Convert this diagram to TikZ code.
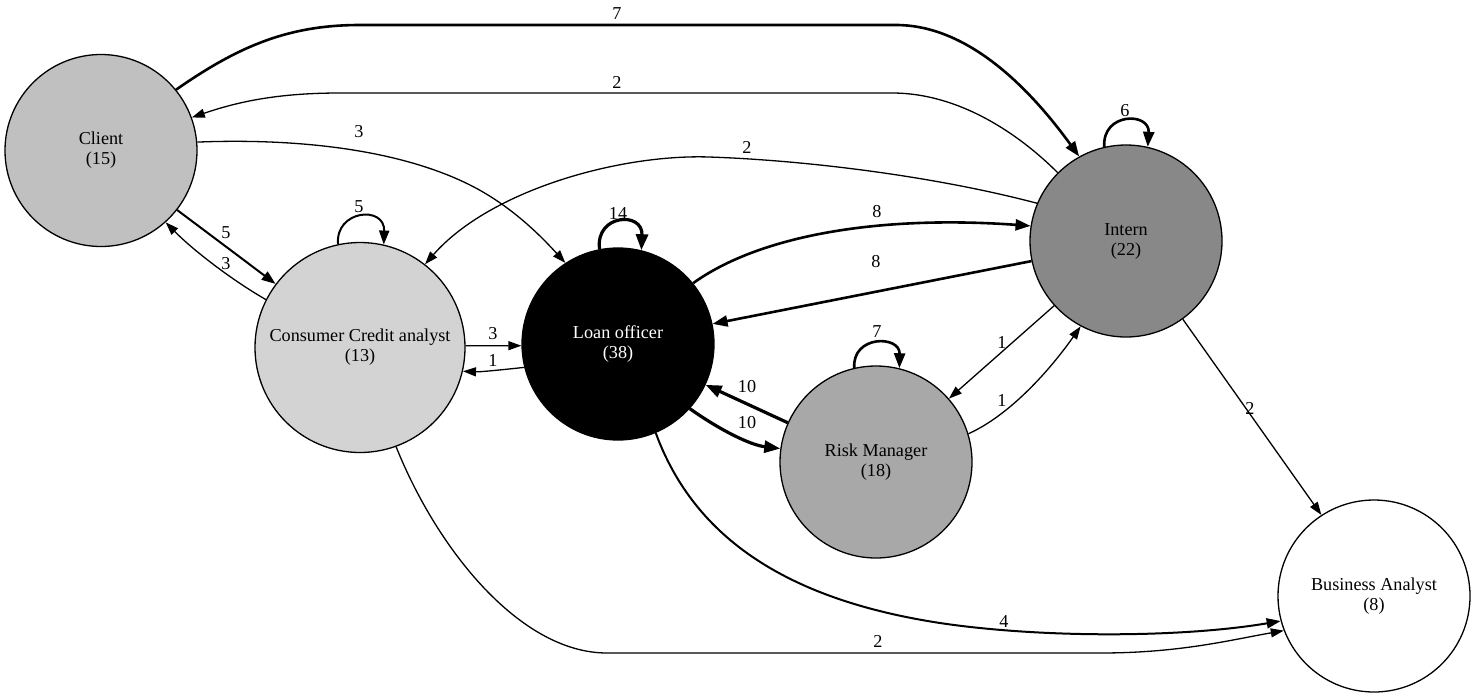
\documentclass[tikz,border=0pt]{standalone}
\usepackage{fontspec}
\setmainfont{Liberation Serif}
\usetikzlibrary{arrows.meta}
\definecolor{cclient}{HTML}{C0C0C0}
\definecolor{ccca}{HTML}{D3D3D3}
\definecolor{cintern}{HTML}{888888}
\definecolor{crisk}{HTML}{A8A8A8}
\begin{document}
\begin{tikzpicture}[x=1pt,y=-1pt,
  state/.style={circle,draw=black,line width=1.3pt,inner sep=0pt,minimum size=192pt,align=center,font=\fontsize{18.2}{20}\selectfont},
  lbl/.style={inner sep=0pt,font=\fontsize{18.2}{20}\selectfont},
  thin/.style={line width=1.3pt,-{Triangle[length=13pt,width=9pt]}},
  mid/.style={line width=2.0pt,-{Triangle[length=14pt,width=10pt]}},
  thick/.style={line width=2.6pt,-{Triangle[length=15pt,width=11pt]}},
  heavy/.style={line width=3.2pt,-{Triangle[length=16pt,width=12pt]}}]
\useasboundingbox (0,0) rectangle (1477,697);
\node[state,fill=cclient] (client) at (101,150.5) {Client\\(15)};
\node[state,fill=ccca,minimum size=210pt] (cca) at (360,347.5) {Consumer Credit analyst\\(13)};
\node[state,fill=black,text=white] (lo) at (618,344) {Loan officer\\(38)};
\node[state,fill=cintern] (intern) at (1126,241) {Intern\\(22)};
\node[state,fill=crisk] (rm) at (876,462) {Risk Manager\\(18)};
\node[state,fill=white] (ba) at (1374,596) {Business Analyst\\(8)};
% Client -> Intern (7)
\draw[thick] (client.39) .. controls (240,45) and (290,25) .. (360,25) -- (896,25) .. controls (960,25) and (1020,75) .. (intern.119);
\node[lbl] (l1) at (617,14) {7};
% Intern -> Client (2)
\draw[thin] (intern.135) .. controls (1020,135) and (960,93) .. (892,93) -- (340,93) .. controls (280,93) and (240,101) .. (client.20);
\node[lbl] (l2) at (617,82) {2};
% Client -> LO (3)
\draw[thin] (client.5) .. controls (300,138) and (400,150) .. (470,185) .. controls (510,205) and (540,235) .. (lo.123);
\node[lbl] (l3) at (359,132) {3};
% Intern -> CCA (2)
\draw[thin] (intern.157) .. controls (930,175) and (800,160) .. (709,157) .. controls (620,154) and (490,190) .. (cca.52);
\node[lbl] (l4) at (747,147) {2};
% Client -> CCA (5)
\draw[mid] (client.-38) -- (cca.143);
\node[lbl] (l5) at (226,233) {5};
% CCA -> Client (3)
\draw[thin] (cca.153) .. controls (235,282) and (195,252) .. (client.-48);
\node[lbl] (l6) at (226,264) {3};
% CCA self loop (5)
\draw[mid] (cca.102) .. controls (335,210) and (385,205) .. (cca.77);
\node[lbl] (l7) at (359,207) {5};
% LO self loop (14)
\draw[heavy] (lo.101) .. controls (595,214) and (643,211) .. (lo.76);
\node[lbl] (l8) at (618,213) {14};
% LO -> Intern (8)
\draw[thick] (lo.39) .. controls (760,235) and (880,215) .. (intern.171);
\node[lbl] (l9) at (877,212) {8};
% Intern -> LO (8)
\draw[thick] (intern.-168.5) -- (lo.12.6);
\node[lbl] (l10) at (876,262) {8};
% CCA -> LO (3)
\draw[thin] (cca.1) -- (lo.181);
\node[lbl] (l11) at (493,334) {3};
% LO -> CCA (1)
\draw[thin] (lo.-166) .. controls (500,370) and (480,372) .. (cca.-13);
\node[lbl] (l12) at (493,360) {1};
% RM -> LO (10)
\draw[heavy] (rm.156) -- (lo.-25);
\node[lbl] (l13) at (747,387) {10};
% LO -> RM (10)
\draw[heavy] (lo.-42) .. controls (720,430) and (750,445) .. (rm.172);
\node[lbl] (l14) at (747,423) {10};
% RM self loop (7)
\draw[thick] (rm.103) .. controls (852,335) and (900,335) .. (rm.76);
\node[lbl] (l15) at (877,332) {7};
% Intern self loop (6)
\draw[thick] (intern.103) .. controls (1102,112) and (1150,112) .. (intern.77);
\node[lbl] (l16) at (1125,111) {6};
% Intern -> RM (1)
\draw[thin] (intern.-138) -- (rm.41);
\node[lbl] (l17) at (1002,342) {1};
% RM -> Intern (1)
\draw[thin] (rm.17) .. controls (1010,415) and (1050,370) .. (intern.-118);
\node[lbl] (l18) at (1002,400) {1};
% Intern -> BA (2)
\draw[thin] (intern.-54) -- (ba.123);
\node[lbl] (l19) at (1250,408) {2};
% LO -> BA (4)
\draw[mid] (lo.-67) .. controls (695,540) and (790,600) .. (940,623) .. controls (1040,638) and (1180,638) .. (ba.195);
\node[lbl] (l20) at (1004,621) {4};
% CCA -> BA (2)
\draw[thin] (cca.-70) .. controls (437,549) and (520,653) .. (607,653) -- (1100,653) .. controls (1180,653) and (1230,640) .. (ba.201);
\node[lbl] (l21) at (878,641) {2};
\end{tikzpicture}
\end{document}
